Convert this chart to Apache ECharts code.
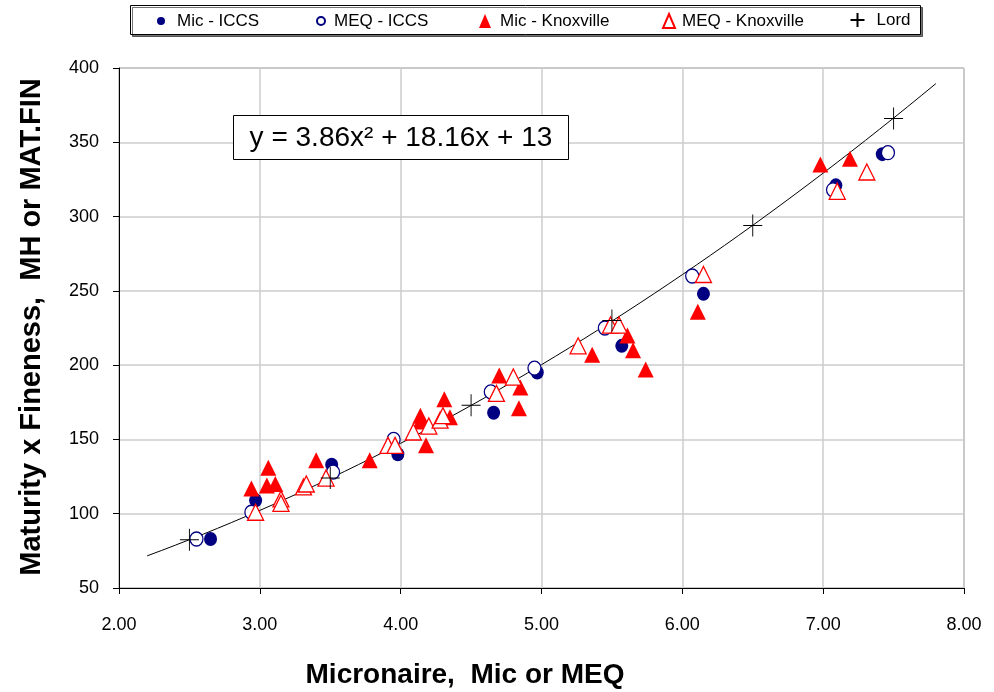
<!DOCTYPE html>
<html>
<head>
<meta charset="utf-8">
<script src="https://cdn.jsdelivr.net/npm/echarts@6/dist/echarts.min.js"></script>
<style>
  html, body { margin: 0; padding: 0; background: #fff; }
  #chart { width: 994px; height: 692px; }
</style>
</head>
<body>
<div id="chart"></div>
<script>
// Micronaire (Mic / MEQ) against maturity x fineness
const micIccs = [
  [2.65, 83], [2.97, 109], [3.51, 133], [3.98, 140], [4.66, 168],
  [4.97, 195], [5.57, 213], [6.15, 248], [7.09, 321], [7.42, 342]
];
const meqIccs = [
  [2.55, 83], [2.94, 101], [3.52, 128], [3.95, 150], [4.64, 182],
  [4.95, 198], [5.45, 225], [6.07, 260], [7.07, 318], [7.46, 343]
];
const micKnox = [
  [2.94, 117], [3.06, 131], [3.05, 119], [3.11, 120], [3.40, 136],
  [3.78, 136], [4.14, 166], [4.14, 162], [4.18, 146], [4.31, 177],
  [4.35, 165], [4.70, 193], [4.84, 171], [4.85, 185], [5.36, 207],
  [5.61, 220], [5.65, 210], [5.74, 197], [6.11, 236], [6.98, 335],
  [7.19, 339]
];
const meqKnox = [
  [2.97, 101], [3.15, 110], [3.15, 107], [3.31, 118], [3.33, 120],
  [3.47, 124], [3.91, 146], [3.96, 146], [4.09, 155], [4.20, 159],
  [4.28, 163], [4.30, 166], [4.68, 181], [4.80, 192], [5.26, 213],
  [5.49, 227], [5.55, 227], [6.15, 261], [7.10, 317], [7.31, 330]
];
const lord = [
  [2.5, 82.5], [3.5, 124], [4.5, 173], [5.5, 230], [6.5, 294], [7.5, 366]
];
const seriesNames = ['Mic - ICCS', 'MEQ - ICCS', 'Mic - Knoxville', 'MEQ - Knoxville', 'Lord'];

// quadratic trendline y = a x^2 + b x + c, drawn over its fitted range
const trendCoef = [3.86, 18.16, 13];
const trendRange = [2.2, 7.8];
const trendLabel = 'y = 3.86x\u00B2 + 18.16x + 13';

const xTicks = { min: 2, max: 8, step: 1 };
const yTicks = { min: 50, max: 400, step: 50 };

const trendData = [];
for (let i = 0; i <= 56; i++) {
  const x = trendRange[0] + (trendRange[1] - trendRange[0]) * i / 56;
  trendData.push([x, trendCoef[0] * x * x + trendCoef[1] * x + trendCoef[2]]);
}

const FONT = '"Liberation Sans", Arial, sans-serif';
const NAVY = '#000080';
const RED = '#ff0000';
const PLUS = 'path://M0,10L20,10M10,0L10,20';

const chart = echarts.init(document.getElementById('chart'), null, { renderer: 'canvas' });

// one legend block per series: icon centre cx, text starting at tx
const LEGEND_H = 14;
function legendAt(name, cx, tx, w, top) {
  const left = cx - w / 2;
  return {
    data: [name],
    left: left,
    top: top,
    padding: 0,
    itemWidth: w,
    itemHeight: LEGEND_H,
    selectedMode: false,
    textStyle: {
      fontFamily: FONT, fontSize: 17, color: '#000',
      padding: [0, 0, 0, Math.max(0, tx - (left + w + 5))]
    }
  };
}

chart.setOption({
  animation: false,
  backgroundColor: '#fff',
  grid: {
    left: 119, right: 30, top: 68, bottom: 104,
    show: true, borderColor: '#808080', borderWidth: 1
  },
  legend: [
    legendAt(seriesNames[0], 161, 177, 8, 12.5),
    legendAt(seriesNames[1], 320, 333, 8, 12.5),
    legendAt(seriesNames[2], 485, 500, 12, 12.5),
    legendAt(seriesNames[3], 668, 681, 12, 12.5),
    legendAt(seriesNames[4], 855, 874, 14, 10.5)
  ],
  graphic: [
    {
      type: 'rect', z: -1,
      shape: { x: 130.5, y: 5.5, width: 790, height: 29 },
      style: {
        fill: '#fff', stroke: '#000', lineWidth: 1,
        shadowColor: 'rgba(0,0,0,0.55)', shadowOffsetX: 2, shadowOffsetY: 2, shadowBlur: 0
      }
    },
    {
      type: 'rect', z: 100,
      shape: { x: 233.5, y: 115.5, width: 335, height: 44 },
      style: { fill: '#fff', stroke: '#000', lineWidth: 1 }
    },
    {
      type: 'text', z: 101, x: 401, y: 138,
      style: {
        text: trendLabel, fontFamily: FONT, fontSize: 28, fill: '#000',
        align: 'center', verticalAlign: 'middle'
      }
    },
    {
      type: 'text', x: 465, y: 675,
      style: {
        text: 'Micronaire,  Mic or MEQ', fontFamily: FONT, fontSize: 28,
        fontWeight: 'bold', fill: '#000', align: 'center', verticalAlign: 'middle'
      }
    },
    {
      type: 'text', x: 32, y: 327, rotation: Math.PI / 2,
      style: {
        text: 'Maturity x Fineness,  MH or MAT.FIN', fontFamily: FONT, fontSize: 29,
        fontWeight: 'bold', fill: '#000', align: 'center', verticalAlign: 'middle'
      }
    }
  ],
  xAxis: {
    type: 'value',
    min: xTicks.min, max: xTicks.max, interval: xTicks.step,
    axisLine: { show: true, onZero: false, lineStyle: { color: '#000', width: 1 } },
    axisTick: { show: true, length: 6, lineStyle: { color: '#000' } },
    axisLabel: {
      margin: 28, fontFamily: FONT, fontSize: 18, color: '#000',
      formatter: v => v.toFixed(2)
    },
    splitLine: { show: true, lineStyle: { color: '#cccccc', width: 1.5 } }
  },
  yAxis: {
    type: 'value',
    min: yTicks.min, max: yTicks.max, interval: yTicks.step,
    axisLine: { show: true, onZero: false, lineStyle: { color: '#000', width: 1 } },
    axisTick: { show: true, length: 6, lineStyle: { color: '#000' } },
    axisLabel: { margin: 20, fontFamily: FONT, fontSize: 18, color: '#000' },
    splitLine: { show: true, lineStyle: { color: '#cccccc', width: 1.5 } }
  },
  series: [
    {
      name: 'trend', type: 'line', data: trendData, showSymbol: false,
      lineStyle: { color: '#000', width: 1 }, z: 1, silent: true
    },
    {
      name: seriesNames[0], type: 'scatter', data: micIccs,
      symbol: 'circle', symbolSize: [13, 14],
      itemStyle: { color: NAVY, opacity: 1 }, z: 2
    },
    {
      name: seriesNames[1], type: 'scatter', data: meqIccs,
      symbol: 'circle', symbolSize: [13, 14],
      itemStyle: { color: '#fff', borderColor: NAVY, borderWidth: 1.3, opacity: 1 }, z: 3
    },
    {
      name: seriesNames[2], type: 'scatter', data: micKnox,
      symbol: 'triangle', symbolSize: [16, 16],
      itemStyle: { color: RED, opacity: 1 }, z: 4
    },
    {
      name: seriesNames[3], type: 'scatter', data: meqKnox,
      symbol: 'triangle', symbolSize: [16, 16],
      itemStyle: { color: '#fff', borderColor: RED, borderWidth: 1.3, opacity: 1 }, z: 5
    },
    {
      name: seriesNames[4], type: 'scatter', data: lord,
      symbol: PLUS, symbolSize: [19, 22],
      itemStyle: { color: 'none', borderColor: '#000', borderWidth: 1, opacity: 1 }, z: 6
    }
  ]
});
</script>
</body>
</html>
